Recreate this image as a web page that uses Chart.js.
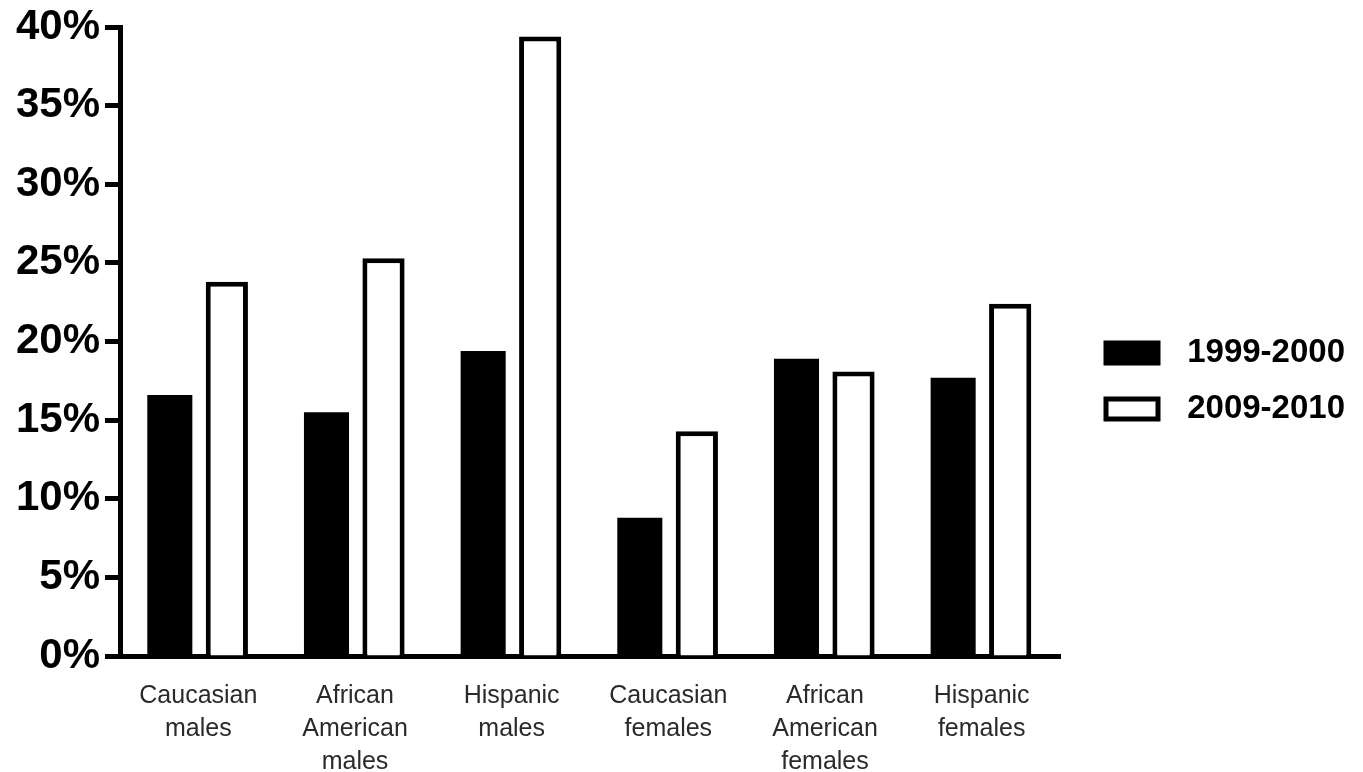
<!DOCTYPE html>
<html lang="en">
<head>
<meta charset="utf-8">
<title>Prevalence 1999-2000 vs 2009-2010</title>
<script src="https://cdn.jsdelivr.net/npm/chart.js@4/dist/chart.umd.min.js"></script>
<style>
    html, body {
        margin: 0;
        padding: 0;
        background: #ffffff;
    }

    #chart {
        display: block;
    }
</style>
</head>
<body>
<canvas id="chart" width="1363" height="772"></canvas>
<script>
// Group labels, one line per array entry
const categories = [
    ["Caucasian", "males"],
    ["African", "American", "males"],
    ["Hispanic", "males"],
    ["Caucasian", "females"],
    ["African", "American", "females"],
    ["Hispanic", "females"]
];

const seriesNames = ["1999-2000", "2009-2010"];

// Percent values
const values1999 = [16.6, 15.5, 19.4, 8.8, 18.9, 17.7];
const values2009 = [23.8, 25.3, 39.4, 14.3, 18.1, 22.4];

const yMin  = 0;
const yMax  = 40;
const yStep = 5;

const FONT = "'Liberation Sans', Arial, Helvetica, sans-serif";

const LEGEND_WIDTH = 262;

/**
 * Builds the dataset list from the named arrays.
 *
 * @returns {object[]}
 */
function buildDatasets()
{
    return [
        {
            label: seriesNames[0],
            data: values1999,
            backgroundColor: "#000000",
            borderColor: "#000000",
            borderWidth: 0,
            categoryPercentage: 0.728,
            barPercentage: 0.79
        },
        {
            label: seriesNames[1],
            data: values2009,
            backgroundColor: "#ffffff",
            borderColor: "#000000",
            borderWidth: 5,
            borderSkipped: "start",
            categoryPercentage: 0.728,
            barPercentage: 0.74
        }
    ];
}

/**
 * Gives the legend a fixed width, so the box sits left and the text right.
 */
const legendWidthPlugin = {
    id: "legendWidth",
    beforeUpdate(chart) {
        const legend = chart.legend;

        if (!legend || legend._fixedWidth) {
            return;
        }

        const fit = legend.fit;

        legend.fit = function () {
            fit.call(this);
            this.width = LEGEND_WIDTH;
        };

        legend._fixedWidth = true;
    }
};

new Chart(document.getElementById("chart"), {
    type: "bar",
    data: {
        labels: categories,
        datasets: buildDatasets()
    },
    plugins: [legendWidthPlugin],
    options: {
        responsive: false,
        animation: false,
        layout: {
            padding: { top: -10, bottom: 0, left: 0, right: 18 }
        },
        plugins: {
            tooltip: { enabled: false },
            legend: {
                position: "right",
                align: "center",
                labels: {
                    boxWidth: 52,
                    boxHeight: 20,
                    padding: 23,
                    textAlign: "right",
                    color: "#000000",
                    font: { family: FONT, size: 33, weight: "bold" },
                    generateLabels(chart) {
                        const items = Chart.defaults.plugins.legend.labels.generateLabels(chart);

                        return items.map((item) => Object.assign(item, {
                            strokeStyle: "#000000",
                            lineWidth: 5
                        }));
                    }
                }
            }
        },
        scales: {
            x: {
                z: 1,
                grid: { display: false, drawTicks: false, tickLength: 0 },
                border: { display: true, color: "#000000", width: 5 },
                ticks: {
                    padding: 24,
                    color: "#2a2a2a",
                    maxRotation: 0,
                    autoSkip: false,
                    font: { family: FONT, size: 25, lineHeight: 1.32 }
                },
                afterFit(scale) {
                    scale.height = 116;
                }
            },
            y: {
                min: yMin,
                max: yMax,
                grid: {
                    display: true,
                    drawOnChartArea: false,
                    drawTicks: true,
                    tickLength: 15,
                    tickWidth: 5,
                    tickColor: "#000000"
                },
                border: { display: true, color: "#000000", width: 5 },
                ticks: {
                    stepSize: yStep,
                    padding: 5,
                    color: "#000000",
                    font: { family: FONT, size: 42, weight: "bold", lineHeight: 1.05 },
                    callback: (value) => value + "%"
                },
                afterFit(scale) {
                    scale.width = 120;
                }
            },
            // Empty spacer between plot and legend
            gap: {
                type: "linear",
                axis: "y",
                position: "right",
                display: true,
                grid: { display: false },
                border: { display: false },
                ticks: { display: false },
                afterFit(scale) {
                    scale.width = 23;
                }
            }
        }
    }
});
</script>
</body>
</html>
